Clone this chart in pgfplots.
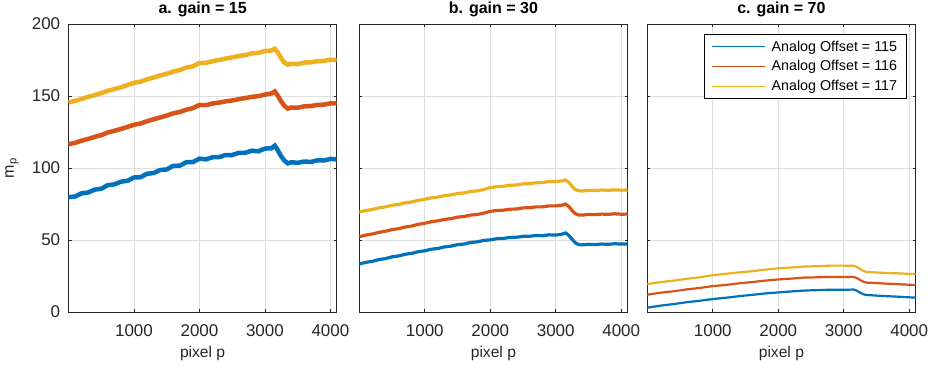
\documentclass[border=0pt]{standalone}
\usepackage{pgfplots}
\pgfplotsset{compat=1.18}
\usepackage{fontspec}
\setmainfont{Liberation Sans}
\definecolor{mblue}{rgb}{0,0.447,0.741}
\definecolor{mred}{rgb}{0.850,0.325,0.098}
\definecolor{myel}{rgb}{0.929,0.694,0.125}
\definecolor{axgray}{rgb}{0.15,0.15,0.15}
\definecolor{gridgray}{rgb}{0.87,0.87,0.87}
\pgfplotsset{
  mstyle/.style={
    scale only axis, width=268.2pt, height=288pt, anchor=south west,
    xmin=0, xmax=4096, ymin=0, ymax=200,
    xtick={1000,2000,3000,4000}, ytick={0,50,100,150,200},
    tick align=inside, major tick length=3pt,
    xtick pos=both, ytick pos=both,
    grid=major, grid style={gridgray, line width=0.6pt},
    axis line style={axgray, line width=0.8pt},
    every tick/.style={axgray, line width=0.8pt},
    tick label style={font=\fontsize{17}{20}\selectfont, text=axgray},
    /pgf/number format/assume math mode=true,
    scaled ticks=false, xticklabel style={yshift=-9pt, /pgf/number format/1000 sep={}},
    yticklabel style={xshift=-4.8pt},
    every axis title/.style={font=\fontsize{16}{19}\selectfont\bfseries, at={(axis description cs:0.5,1.0365)}, anchor=base},
    every axis x label/.style={font=\fontsize{15.6}{18}\selectfont, text=axgray, at={(axis description cs:0.5,-0.1424)}, anchor=center},
    every axis y label/.style={font=\fontsize{16}{19}\selectfont, text=axgray, at={(axis description cs:-0.2107,0.5)}, rotate=90, anchor=center},
    xlabel={pixel p},
    clip=true,
  }
}
\pgfplotstableread{
x a1 a2 a3
0 79.8 116.6 145.6
100 80.2 117.4 146.6
200 82.4 119.0 148.0
300 83.0 120.2 149.4
400 85.0 121.6 150.6
500 85.6 122.8 152.0
600 88.1 124.7 153.6
700 88.6 125.8 154.8
800 90.5 127.1 156.0
900 91.1 128.5 157.6
1000 93.4 130.0 159.2
1100 93.6 130.9 160.0
1200 96.0 132.5 161.6
1300 96.5 133.8 162.8
1400 98.6 135.1 164.3
1500 99.0 136.4 165.4
1600 101.5 138.0 167.0
1700 101.6 138.9 168.0
1800 104.0 140.5 169.8
1900 104.1 141.6 170.6
2000 106.5 143.8 172.9
2100 106.0 143.6 173.0
2200 107.5 144.8 174.2
2300 107.6 145.4 175.0
2400 109.0 146.3 176.0
2500 109.0 146.9 176.8
2600 110.5 147.8 177.8
2700 110.6 148.6 178.4
2800 112.0 149.4 179.6
2900 111.6 149.9 180.0
3000 113.5 151.0 181.2
3100 113.7 151.8 181.6
3150 115.5 153.2 182.8
3200 112.0 150.0 180.0
3250 108.0 146.0 176.0
3300 105.0 143.0 173.0
3350 103.2 141.3 171.8
3400 104.0 142.0 172.4
3500 103.6 141.9 172.2
3600 104.5 142.8 173.2
3700 104.2 143.0 173.4
3800 105.3 143.8 174.2
3900 105.2 144.0 174.4
4000 106.3 144.9 175.2
4096 106.0 145.0 175.0
}\tabA
\pgfplotstableread{
x b1 b2 b3
0 33.3 52.3 69.4
100 34.5 53.4 70.5
200 35.2 54.2 71.2
300 36.4 55.3 72.3
400 37.1 56.1 73.0
500 38.3 57.2 74.1
600 38.9 57.9 74.7
700 40.1 59.0 75.8
800 40.7 59.7 76.4
900 41.9 60.9 77.6
1000 42.5 61.6 78.3
1100 43.6 62.7 79.3
1200 44.1 63.3 79.8
1300 45.2 64.3 80.8
1400 45.7 64.8 81.3
1500 46.8 65.9 82.3
1600 47.2 66.3 82.7
1700 48.3 67.3 83.7
1800 48.7 67.7 84.1
1900 49.7 68.7 85.1
2000 50.1 69.9 86.4
2100 50.9 70.5 87.0
2200 51.1 70.7 87.3
2300 51.8 71.4 88.0
2400 51.9 71.5 88.2
2500 52.6 72.3 89.0
2600 52.6 72.4 89.1
2700 53.1 73.0 89.8
2800 53.0 73.0 89.9
2900 53.6 73.7 90.6
3000 53.4 73.7 90.7
3100 54.1 74.2 91.0
3150 54.9 75.0 91.7
3200 53.2 73.3 90.0
3250 50.5 70.5 87.2
3300 48.0 68.3 85.0
3350 46.8 67.4 84.2
3400 46.6 67.3 84.0
3500 47.0 67.7 84.5
3600 46.8 67.6 84.3
3700 47.2 68.0 84.7
3800 47.0 67.8 84.5
3900 47.4 68.2 84.8
4000 47.2 67.9 84.6
4096 47.3 68.0 84.7
}\tabB
\pgfplotstableread{
x c1 c2 c3
0 3.0 12.0 19.4
200 4.4 13.4 20.7
400 5.5 14.4 21.8
600 6.8 15.7 23.0
800 7.8 16.7 24.1
1000 9.0 18.0 25.6
1200 9.9 18.8 26.5
1400 11.0 19.9 27.5
1600 11.9 20.8 28.3
1800 12.9 21.8 29.4
2000 13.6 22.6 30.4
2200 14.3 23.2 30.9
2400 14.9 23.9 31.6
2600 15.2 24.1 31.8
2800 15.5 24.4 32.2
3000 15.4 24.3 32.2
3150 15.6 24.4 32.1
3200 14.8 23.6 31.3
3250 13.4 22.2 29.8
3300 12.3 21.0 28.5
3350 11.8 20.4 27.8
3400 11.7 20.3 27.7
3600 11.1 19.8 27.2
3800 10.7 19.4 26.9
4000 10.2 18.9 26.5
4096 10.0 18.8 26.4
}\tabC
\begin{document}
\begin{tikzpicture}[x=1pt,y=1pt]
\path[use as bounding box] (0,0) rectangle (934,367);
\begin{axis}[mstyle, at={(68.5pt,55pt)}, title={a. gain = 15},
  ylabel={m\textsubscript{p}}]
\addplot[mblue, line width=4.5pt] table[x=x,y=a1]{\tabA};
\addplot[mred, line width=4.5pt] table[x=x,y=a2]{\tabA};
\addplot[myel, line width=4.5pt] table[x=x,y=a3]{\tabA};
\end{axis}
\begin{axis}[mstyle, at={(359.3pt,55pt)}, title={b. gain = 30}, yticklabels={}]
\addplot[mblue, line width=3.2pt] table[x=x,y=b1]{\tabB};
\addplot[mred, line width=3.2pt] table[x=x,y=b2]{\tabB};
\addplot[myel, line width=3.2pt] table[x=x,y=b3]{\tabB};
\end{axis}
\begin{axis}[mstyle, at={(647.3pt,55pt)}, title={c. gain = 70}, yticklabels={},
  legend cell align=left,
  legend image code/.code={\draw[#1, line width=1.2pt] (0pt,0pt) -- (53pt,0pt);},
  legend style={font=\fontsize{14.3}{16}\selectfont, draw=black, line width=0.6pt, fill=white,
    at={(0.966,0.964)}, anchor=north east, inner xsep=7pt, inner ysep=3pt, row sep=2pt,
    column sep=4pt, nodes={inner ysep=3pt}}]
\addlegendimage{mblue}
\addlegendimage{mred}
\addlegendimage{myel}
\addplot[mblue, line width=2.2pt, forget plot] table[x=x,y=c1]{\tabC};
\addplot[mred, line width=2.2pt, forget plot] table[x=x,y=c2]{\tabC};
\addplot[myel, line width=2.2pt, forget plot] table[x=x,y=c3]{\tabC};
\legend{Analog Offset = 115, Analog Offset = 116, Analog Offset = 117}
\end{axis}
\end{tikzpicture}
\end{document}
